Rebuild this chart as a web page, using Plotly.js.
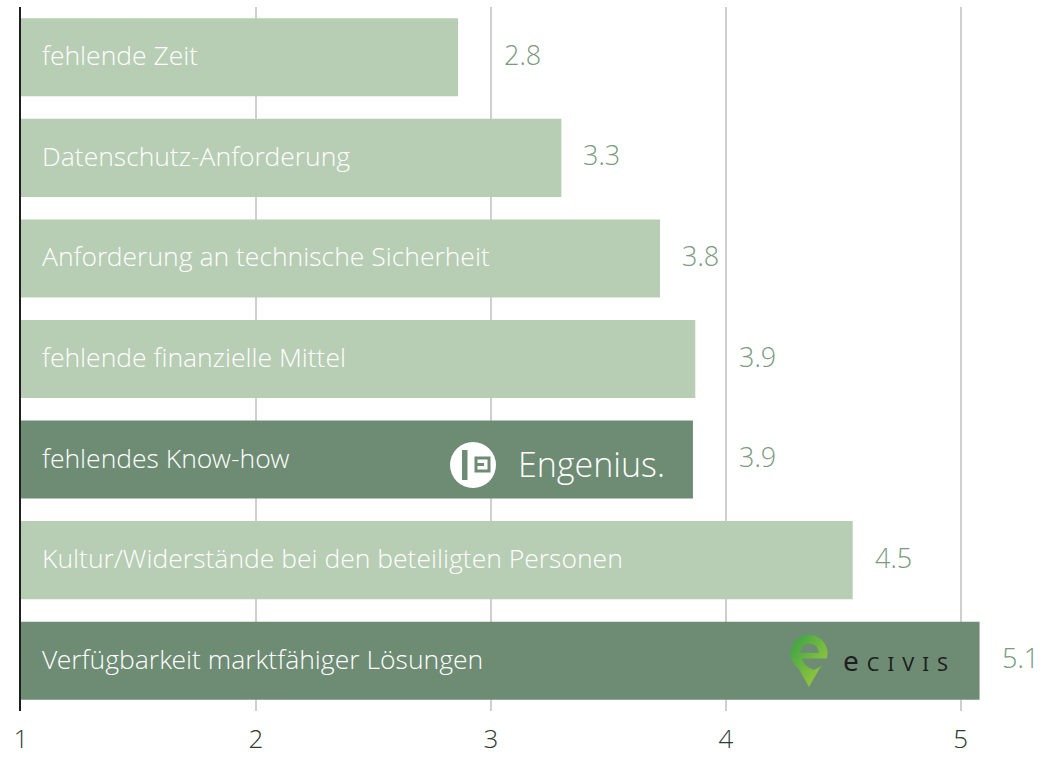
<!DOCTYPE html>
<html>
<head>
<meta charset="utf-8">
<script src="https://cdn.plot.ly/plotly-3.0.1.min.js"></script>
<style>
html,body{margin:0;padding:0;background:#fff;}
#chart{width:1050px;height:757px;}
.annotation[data-index="15"] text{letter-spacing:8px;}
</style>
</head>
<body>
<div id="chart"></div>
<script>
// ---- data ----
const categories = [
  "fehlende Zeit",
  "Datenschutz-Anforderung",
  "Anforderung an technische Sicherheit",
  "fehlende finanzielle Mittel",
  "fehlendes Know-how",
  "Kultur/Widerstände bei den beteiligten Personen",
  "Verfügbarkeit marktfähiger Lösungen"
];
const values = [2.86, 3.30, 3.72, 3.87, 3.86, 4.54, 5.08];
const valueLabels = ["2.8", "3.3", "3.8", "3.9", "3.9", "4.5", "5.1"];
const highlighted = [false, false, false, false, true, false, true];
const xTicks = [1, 2, 3, 4, 5];
const xTickLabels = ["1", "2", "3", "4", "5"];

// ---- style ----
const LIGHT = "#b7cdb4";
const DARK = "#6e8c74";
const FONT = "'Open Sans Light', 'Open Sans', 'Noto Sans', sans-serif";
const W = 1050, H = 757;
const M = {l: 21, r: 7, t: 7, b: 46};
const X0 = 1, X1 = 5.35;
const plotW = W - M.l - M.r, plotH = H - M.t - M.b;
const pxPerUnit = plotW / (X1 - X0);
const px = x => (x - M.l) / plotW;        // pixel -> paper x
const py = y => 1 - (y - M.t) / plotH;    // pixel -> paper y

const trace = {
  type: "bar",
  orientation: "h",
  y: categories,
  x: values,
  marker: {color: highlighted.map(h => h ? DARK : LIGHT), line: {width: 0}},
  hoverinfo: "skip",
  showlegend: false
};

const annotations = [];
// category labels inside bars
categories.forEach((c, i) => {
  annotations.push({
    x: X0, y: c, xref: "x", yref: "y", xanchor: "left", yanchor: "middle",
    xshift: 19, yshift: 2, text: c, showarrow: false,
    font: {family: FONT, size: 26.5, color: "#ffffff", weight: 300}
  });
});
// value labels (shifted past a gridline when they would overlap it)
values.forEach((v, i) => {
  const nextGrid = Math.ceil(v);
  const gapPx = (nextGrid - v) * pxPerUnit;
  let ax = v, shift = 20;
  if (gapPx < 58) { ax = nextGrid; shift = 11; }
  annotations.push({
    x: ax, y: categories[i], xref: "x", yref: "y", xanchor: "left", yanchor: "middle",
    xshift: shift, yshift: 3, text: valueLabels[i], showarrow: false,
    font: {family: FONT, size: 27, color: "#7b9a7f", weight: 300}
  });
});
// logo texts
annotations.push({
  x: px(516), y: py(464), xref: "paper", yref: "paper", xanchor: "left", yanchor: "middle",
  text: "Engenius.", showarrow: false,
  font: {family: FONT, size: 34, color: "#ffffff", weight: 300}
});
annotations.push({
  x: px(899), y: py(660), xref: "paper", yref: "paper", xanchor: "center", yanchor: "middle",
  text: '<span style="font-size:28px">e</span>CIVIS', showarrow: false,
  font: {family: "'Noto Sans', sans-serif", size: 20, color: "#1e1e1e", weight: 400}
});

// logo icons as inline SVG
const engSvg = `<svg xmlns="http://www.w3.org/2000/svg" width="46" height="46" viewBox="0 0 46 46">
<circle cx="23" cy="23" r="23" fill="#ffffff"/>
<rect x="12" y="8" width="5.5" height="30" fill="${DARK}"/>
<rect x="26" y="16" width="13" height="13" fill="none" stroke="${DARK}" stroke-width="3"/>
<rect x="26" y="21" width="8" height="3" fill="${DARK}"/>
</svg>`;
const civSvg = `<svg xmlns="http://www.w3.org/2000/svg" width="40" height="53" viewBox="0 0 40 53">
<defs><linearGradient id="g" x1="0" y1="0" x2="1" y2="1">
<stop offset="0" stop-color="#36a046"/><stop offset="1" stop-color="#a9d13a"/></linearGradient></defs>
<path d="M9.5 33.5 A18.5 18.5 0 1 1 30.5 33.5 L20 52 Z" fill="url(#g)"/>
<path d="M11 18 A9.5 9.5 0 0 1 30 18 Z" fill="${DARK}"/>
<path d="M13 23.5 L40 23.5 L40 30 Q31 31 25 35 Q15 32 13 23.5 Z" fill="${DARK}"/>
</svg>`;
const uri = s => "data:image/svg+xml;charset=utf-8," + encodeURIComponent(s);

const images = [
  {source: uri(engSvg), xref: "paper", yref: "paper", x: px(450), y: py(442),
   sizex: 46 / plotW, sizey: 46 / plotH, xanchor: "left", yanchor: "top", layer: "above", sizing: "stretch"},
  {source: uri(civSvg), xref: "paper", yref: "paper", x: px(789), y: py(635),
   sizex: 40 / plotW, sizey: 53 / plotH, xanchor: "left", yanchor: "top", layer: "above", sizing: "stretch"}
];

const layout = {
  width: W, height: H,
  margin: M,
  paper_bgcolor: "#ffffff",
  plot_bgcolor: "#ffffff",
  bargap: 0.224,
  xaxis: {
    range: [X0, X1],
    tickvals: xTicks, ticktext: xTickLabels,
    showgrid: true, gridcolor: "#cfcfcf", gridwidth: 2,
    zeroline: false, showline: false, ticks: "",
    ticklabelstandoff: 10,
    tickfont: {family: FONT, size: 26, color: "#2d3b30", weight: 300},
    fixedrange: true
  },
  yaxis: {
    autorange: false, range: [categories.length - 0.5, -0.5],
    type: "category",
    showticklabels: false, showgrid: false, zeroline: false,
    showline: true, linecolor: "#1f1f1f", linewidth: 2,
    ticks: "", fixedrange: true
  },
  annotations: annotations,
  images: images,
  showlegend: false
};

Plotly.newPlot("chart", [trace], layout, {displayModeBar: false, staticPlot: true});
</script>
</body>
</html>
